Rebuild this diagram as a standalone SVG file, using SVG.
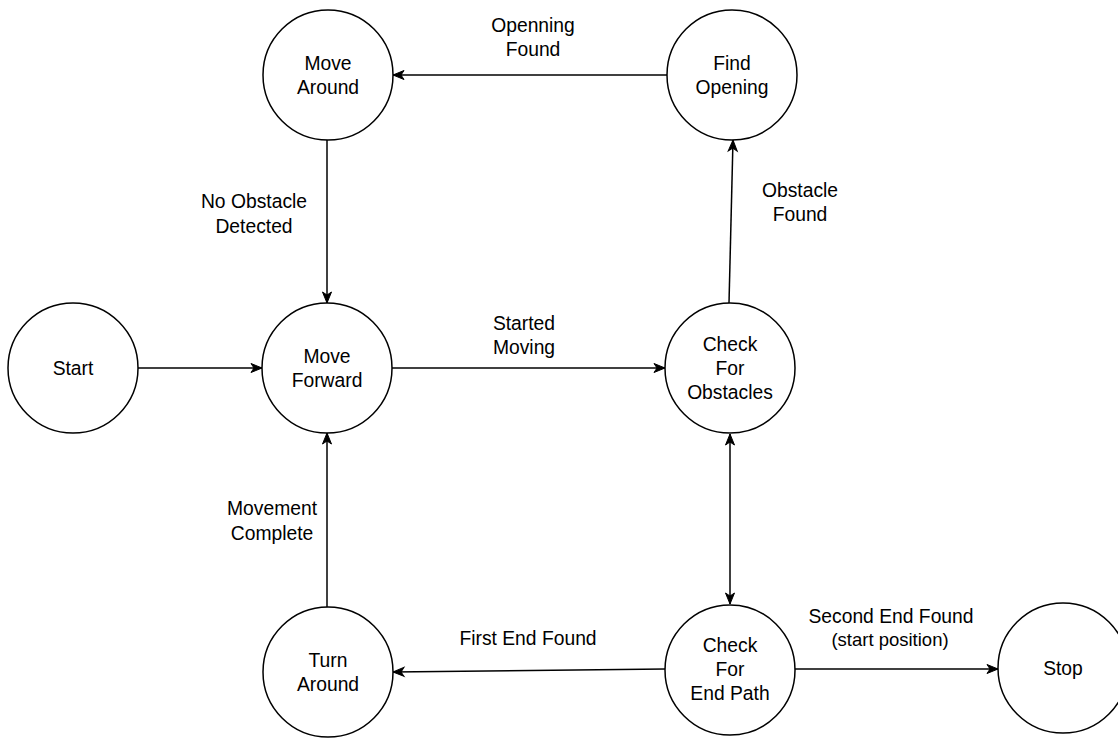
<svg xmlns="http://www.w3.org/2000/svg" width="1118" height="738" viewBox="0 0 1118 738">
<style>
circle.n{fill:#fff;stroke:#000;stroke-width:1.5}
text{font-family:"Liberation Sans",Arial,sans-serif;font-size:19.3px;fill:#000;text-anchor:middle}
.e{fill:none;stroke:#000;stroke-width:1.5}
</style>
<defs>
<marker id="a" markerUnits="userSpaceOnUse" markerWidth="12" markerHeight="10" refX="11" refY="5" orient="auto-start-reverse" overflow="visible">
<path d="M0,0.5 L11,5 L0,9.5 L3,5 z" fill="#000" stroke="#000" stroke-width="1"/>
</marker>
</defs>
<rect width="1118" height="738" fill="#fff"/>
<g id="connectors">
<line class="e" x1="138" y1="368" x2="262" y2="368" marker-end="url(#a)"/>
<line class="e" x1="392" y1="368" x2="665" y2="368" marker-end="url(#a)"/>
<line class="e" x1="327" y1="140" x2="327" y2="303" marker-end="url(#a)"/>
<line class="e" x1="327" y1="607" x2="327" y2="433" marker-end="url(#a)"/>
<line class="e" x1="729" y1="303" x2="733" y2="140" marker-end="url(#a)"/>
<line class="e" x1="667" y1="75" x2="393" y2="75" marker-end="url(#a)"/>
<line class="e" x1="730" y1="434" x2="730" y2="604" marker-start="url(#a)" marker-end="url(#a)"/>
<line class="e" x1="665" y1="669" x2="393" y2="672" marker-end="url(#a)"/>
<line class="e" x1="795" y1="669" x2="998" y2="669" marker-end="url(#a)"/>
<text x="533" y="32">Openning</text><text x="533" y="56">Found</text>
<text x="254" y="208">No Obstacle</text><text x="254" y="233">Detected</text>
<text x="800" y="197">Obstacle</text><text x="800" y="221">Found</text>
<text x="524" y="330">Started</text><text x="524" y="354">Moving</text>
<text x="272" y="515">Movement</text><text x="272" y="540">Complete</text>
<text x="528" y="645">First End Found</text>
<text x="891" y="623">Second End Found</text><text x="890" y="646" style="font-size:18.5px">(start position)</text>
</g>
<g id="start"><circle class="n" cx="73" cy="368" r="65"/><text x="73" y="375">Start</text></g>
<g id="move-forward"><circle class="n" cx="327" cy="368" r="65"/><text x="327" y="363">Move</text><text x="327" y="387">Forward</text></g>
<g id="move-around"><circle class="n" cx="328" cy="75" r="65"/><text x="328" y="70">Move</text><text x="328" y="94">Around</text></g>
<g id="find-opening"><circle class="n" cx="732" cy="75" r="65"/><text x="732" y="70">Find</text><text x="732" y="94">Opening</text></g>
<g id="check-obstacles"><circle class="n" cx="730" cy="368" r="65"/><text x="730" y="351">Check</text><text x="730" y="375">For</text><text x="730" y="399">Obstacles</text></g>
<g id="turn-around"><circle class="n" cx="328" cy="672" r="65"/><text x="328" y="667">Turn</text><text x="328" y="691">Around</text></g>
<g id="check-end"><circle class="n" cx="730" cy="670" r="65"/><text x="730" y="652">Check</text><text x="730" y="676">For</text><text x="730" y="700">End Path</text></g>
<g id="stop"><circle class="n" cx="1063" cy="668" r="65"/><text x="1063" y="675">Stop</text></g>
</svg>
